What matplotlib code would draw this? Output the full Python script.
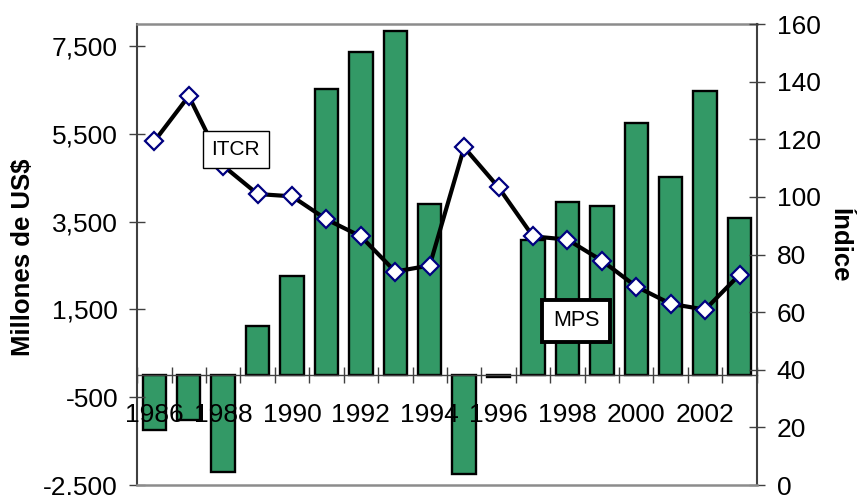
import matplotlib
matplotlib.use("Agg")
import matplotlib.pyplot as plt
import numpy as np
from matplotlib.ticker import FixedLocator, FuncFormatter, NullFormatter

plt.rcParams["font.family"] = ["Liberation Sans", "DejaVu Sans"]

# Annual series, 1986-2003
years = list(range(1986, 2004))
mps = [-1250, -1020, -2200, 1120, 2255, 6515, 7365, 7845, 3895, -2255,
       -35, 3075, 3940, 3855, 5735, 4505, 6485, 3575]      # millones de US$
itcr = [119.3, 135.0, 110.8, 101.0, 100.2, 92.2, 86.3, 74.1, 76.2, 117.2,
        103.3, 86.3, 85.2, 77.9, 68.9, 62.9, 60.9, 73.0]   # índice
year_labels = [str(y) if (y - 1986) % 2 == 0 else "" for y in years]

BAR_GREEN = "#339966"
DARK = "#404040"
GREY = "#8c8c8c"
TICK_FS = 19

fig = plt.figure(figsize=(8.57, 4.95), dpi=100)
ax = fig.add_axes([0.160, 0.020, 0.723, 0.9315])
ax2 = ax.twinx()

x = np.arange(len(years))
ax.bar(x, mps, width=0.68, color=BAR_GREEN, edgecolor="black", linewidth=1.7,
       zorder=1)
ax.set_axisbelow(False)   # year labels are printed over the bars
ax.set_xlim(-0.5, len(years) - 0.5)
ax.set_ylim(-2500, 8000)

# category axis sits on the zero line, ticks between bars, labels under centres
ax.spines["bottom"].set_position(("data", 0))
ax.spines["bottom"].set_color(DARK)
ax.spines["bottom"].set_linewidth(1.0)
ax.spines["left"].set_color(DARK)
ax.spines["left"].set_linewidth(1.5)
ax.spines["top"].set_color(GREY)
ax.spines["top"].set_linewidth(1.8)
ax.spines["right"].set_visible(False)

ax.xaxis.set_major_locator(FixedLocator(np.arange(-0.5, len(years), 1.0)))
ax.xaxis.set_major_formatter(NullFormatter())
ax.xaxis.set_minor_locator(FixedLocator(x))
ax.set_xticklabels(year_labels, minor=True)
ax.tick_params(axis="x", which="major", direction="inout", length=11.5,
               width=1.0, color=DARK)
ax.tick_params(axis="x", which="minor", length=0, pad=20, labelsize=TICK_FS)

ax.set_yticks(np.arange(-2500, 7501, 2000))
ax.yaxis.set_major_formatter(FuncFormatter(lambda v, _: f"{v:,.0f}"))
ax.tick_params(axis="y", direction="inout", length=11.5, width=1.0,
               color=DARK, pad=8, labelsize=TICK_FS)

# index line on the right axis
ax2.plot(x, itcr, color="black", linewidth=3.0, marker="D", markersize=8.7,
         markerfacecolor="white", markeredgecolor="#000080",
         markeredgewidth=1.6, zorder=3)
ax2.set_ylim(0, 160)
ax2.set_yticks(np.arange(0, 161, 20))
ax2.tick_params(axis="y", direction="inout", length=11.5, width=1.0,
                color=DARK, pad=8.5, labelsize=TICK_FS)
ax2.spines["right"].set_color(DARK)
ax2.spines["right"].set_linewidth(1.5)
ax2.spines["bottom"].set_color(GREY)
ax2.spines["bottom"].set_linewidth(1.8)
ax2.spines["left"].set_visible(False)
ax2.spines["top"].set_visible(False)

# series tags
ax2.text(2.36, 116.5, "ITCR", fontsize=15, ha="center", va="center",
         zorder=5, bbox=dict(boxstyle="square,pad=0.42", facecolor="white",
                             edgecolor="black", linewidth=1.0))
ax2.text(12.25, 57.0, "MPS", fontsize=15.5, ha="center", va="center",
         zorder=5, bbox=dict(boxstyle="square,pad=0.5", facecolor="white",
                             edgecolor="black", linewidth=2.8))

fig.text(0.027, 0.48, "Millones de US$", rotation=90, fontsize=18.5,
         fontweight="bold", ha="center", va="center")
fig.text(0.980, 0.505, "Índice", rotation=-90, fontsize=18.5,
         fontweight="bold", ha="center", va="center")

fig.savefig("out.png", dpi=100)
